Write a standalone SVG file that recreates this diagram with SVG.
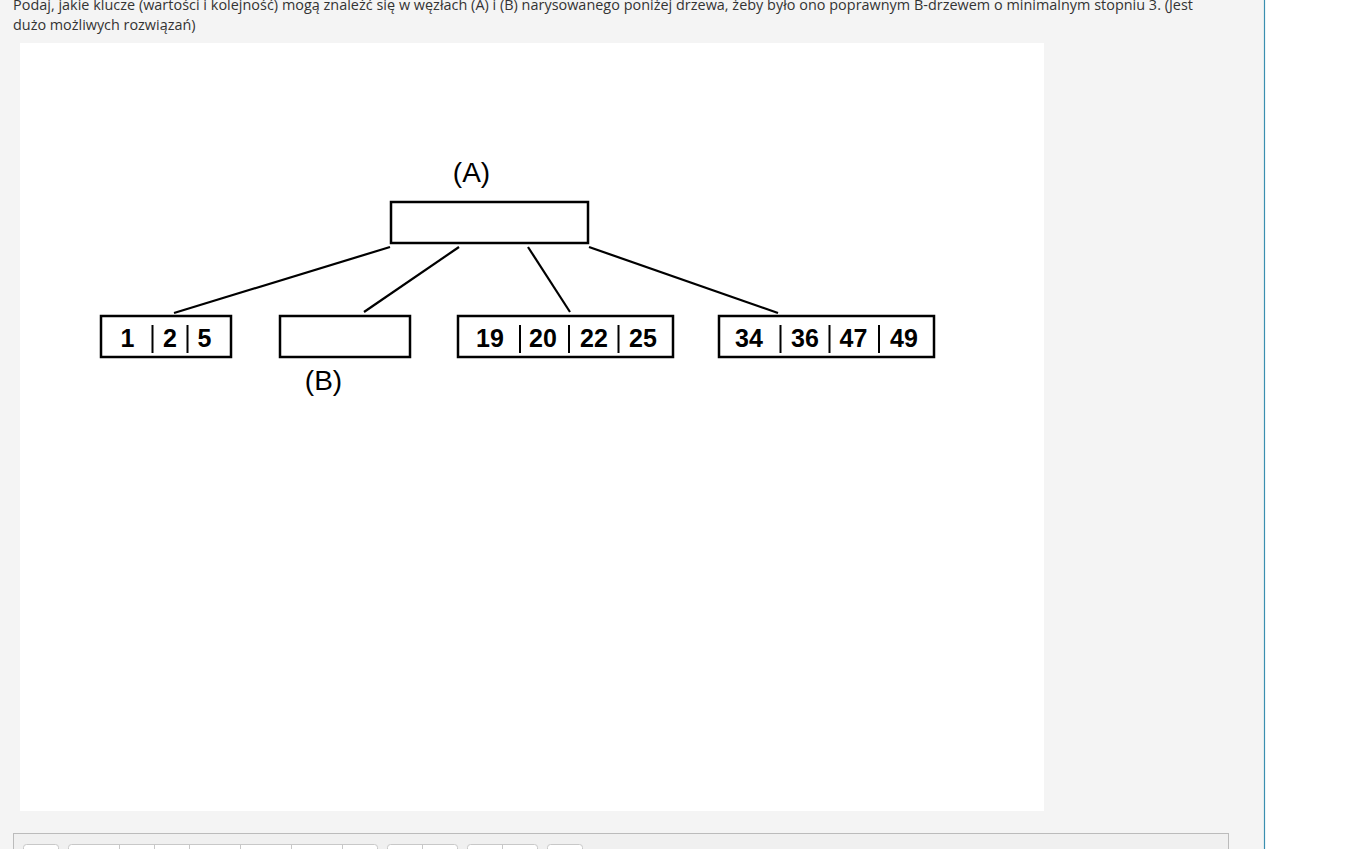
<svg xmlns="http://www.w3.org/2000/svg" width="1364" height="849" viewBox="0 0 1364 849">
<style>
.q{font-family:"Open Sans","Noto Sans",sans-serif;font-size:14.4px;fill:#333}
.box{fill:#fff;stroke:#000;stroke-width:2.5}
.lbl{font-family:"Liberation Sans",Arial,sans-serif;font-size:28px;fill:#000;text-anchor:middle}
.key{font-family:"Liberation Sans",Arial,sans-serif;font-size:25px;font-weight:bold;fill:#000;text-anchor:middle}
.sep{stroke:#000;stroke-width:2}
.edge{stroke:#000;stroke-width:2.2;fill:none}
.btn{fill:#fff;stroke:#c8c8c8;stroke-width:1}
.div{stroke:#c8c8c8;stroke-width:1}
</style>
<rect x="0" y="0" width="1364" height="849" fill="#fff"/>
<rect x="0" y="0" width="1264" height="849" fill="#f4f4f4"/>
<line x1="1264.5" y1="0" x2="1264.5" y2="849" stroke="#3a8fb0" stroke-width="1.2"/>
<text class="q" x="13" y="10" textLength="1180" lengthAdjust="spacing">Podaj, jakie klucze (wartości i kolejność) mogą znaleźć się w węzłach (A) i (B) narysowanego poniżej drzewa, żeby było ono poprawnym B-drzewem o minimalnym stopniu 3. (Jest</text>
<text class="q" x="13" y="30">dużo możliwych rozwiązań)</text>
<rect x="20" y="43" width="1024" height="768" fill="#fff"/>
<g id="connectors">
<line class="edge" x1="390" y1="247" x2="174" y2="313"/>
<line class="edge" x1="459" y1="247" x2="364" y2="312"/>
<line class="edge" x1="528" y1="247" x2="570" y2="312"/>
<line class="edge" x1="589" y1="247" x2="778" y2="313"/>
</g>
<g id="nodeA">
<text class="lbl" x="471.5" y="181.5">(A)</text>
<rect class="box" x="391" y="202" width="197" height="41"/>
</g>
<g id="leaf1">
<rect class="box" x="101" y="316" width="130" height="41"/>
<text class="key" x="127.5" y="347">1</text>
<line class="sep" x1="152.5" y1="325" x2="152.5" y2="353"/>
<text class="key" x="170" y="347">2</text>
<line class="sep" x1="187.5" y1="325" x2="187.5" y2="353"/>
<text class="key" x="204.5" y="347">5</text>
</g>
<g id="nodeB">
<rect class="box" x="280" y="316" width="130" height="41"/>
<text class="lbl" x="323.5" y="390">(B)</text>
</g>
<g id="leaf3">
<rect class="box" x="458" y="316" width="215" height="41"/>
<text class="key" x="490" y="347">19</text>
<line class="sep" x1="520" y1="325" x2="520" y2="353"/>
<text class="key" x="543" y="347">20</text>
<line class="sep" x1="569" y1="325" x2="569" y2="353"/>
<text class="key" x="594" y="347">22</text>
<line class="sep" x1="618.5" y1="325" x2="618.5" y2="353"/>
<text class="key" x="643" y="347">25</text>
</g>
<g id="leaf4">
<rect class="box" x="719" y="316" width="215" height="41"/>
<text class="key" x="749" y="347">34</text>
<line class="sep" x1="780.5" y1="325" x2="780.5" y2="353"/>
<text class="key" x="805" y="347">36</text>
<line class="sep" x1="829.5" y1="325" x2="829.5" y2="353"/>
<text class="key" x="853.5" y="347">47</text>
<line class="sep" x1="879" y1="325" x2="879" y2="353"/>
<text class="key" x="904" y="347">49</text>
</g>
<g id="toolbar">
<rect x="13.5" y="833.5" width="1215" height="30" fill="#f0f0f0" stroke="#bbb" stroke-width="1"/>
<rect class="btn" x="23.5" y="844.5" width="35" height="20" rx="3"/>
<rect class="btn" x="68.5" y="844.5" width="309" height="20" rx="3"/>
<line class="div" x1="119.5" y1="845" x2="119.5" y2="849"/>
<line class="div" x1="154.5" y1="845" x2="154.5" y2="849"/>
<line class="div" x1="189.5" y1="845" x2="189.5" y2="849"/>
<line class="div" x1="240.5" y1="845" x2="240.5" y2="849"/>
<line class="div" x1="291.5" y1="845" x2="291.5" y2="849"/>
<line class="div" x1="342.5" y1="845" x2="342.5" y2="849"/>
<rect class="btn" x="387.5" y="844.5" width="70" height="20" rx="3"/>
<line class="div" x1="422.5" y1="845" x2="422.5" y2="849"/>
<rect class="btn" x="467.5" y="844.5" width="70" height="20" rx="3"/>
<line class="div" x1="502.5" y1="845" x2="502.5" y2="849"/>
<rect class="btn" x="547.5" y="844.5" width="35" height="20" rx="3"/>
</g>
</svg>
